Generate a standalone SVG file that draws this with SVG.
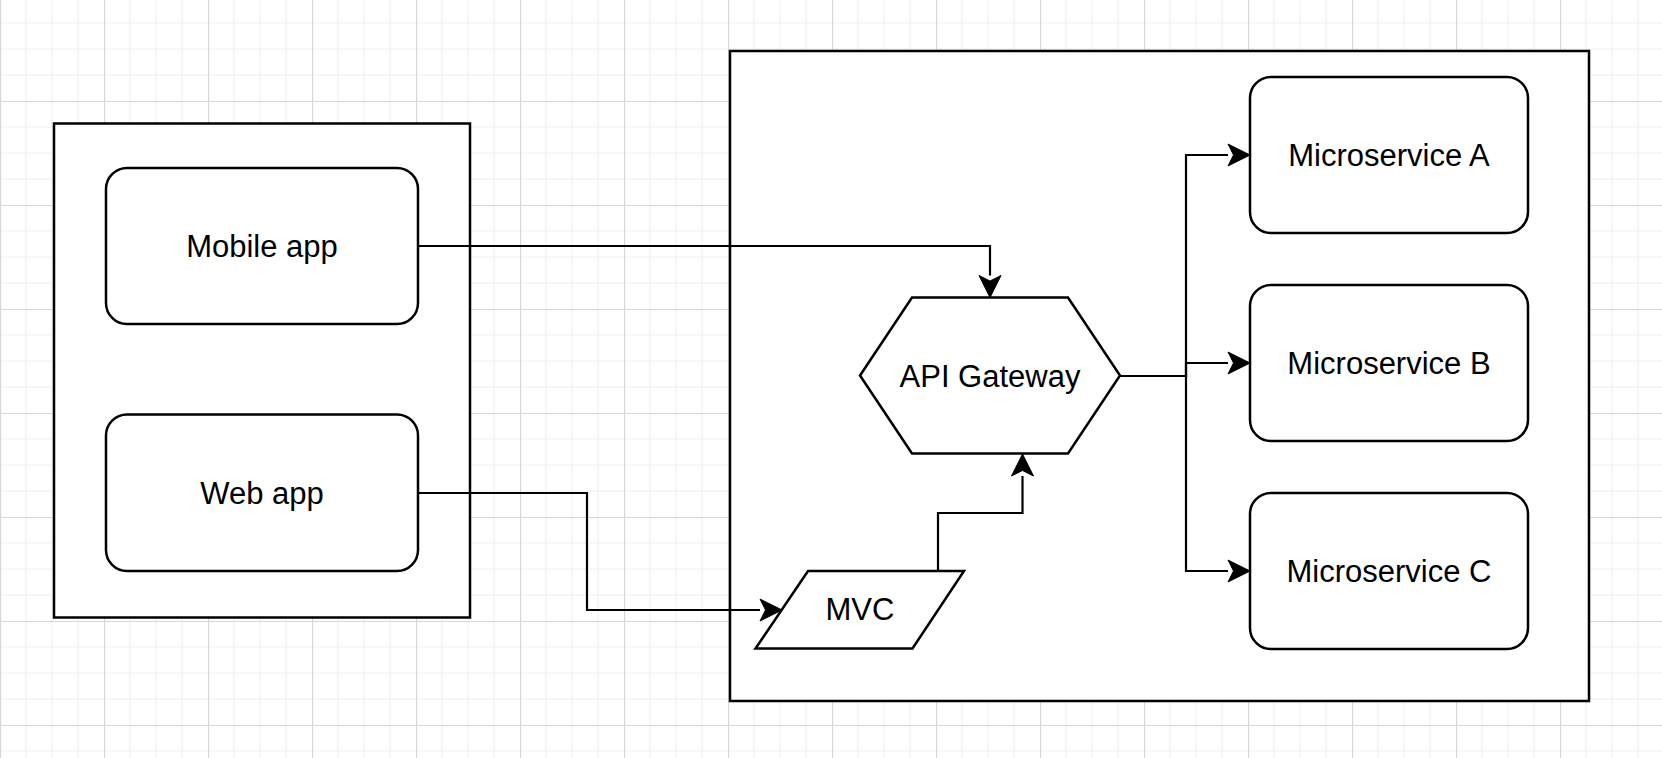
<svg xmlns="http://www.w3.org/2000/svg" width="1662" height="758" viewBox="0 0 1662 758">
  <style>
    .container { fill: #ffffff; stroke: #000000; stroke-width: 2.5; }
    .node { fill: #ffffff; stroke: #000000; stroke-width: 2.5; }
    .label { font-family: "Liberation Sans", Arial, Helvetica, sans-serif; font-size: 31px; fill: #000000; text-anchor: middle; }
    .edge { fill: none; stroke: #000000; stroke-width: 2.2; marker-end: url(#arrow); }
  </style>
  <defs>
    <pattern id="grid" patternUnits="userSpaceOnUse" x="0" y="-3" width="104" height="104">
      <path d="M26 0V104M52 0V104M78 0V104M0 26H104M0 52H104M0 78H104" stroke="#f0f0f0" stroke-width="1.2" fill="none"/>
      <path d="M0.5 0V104M0 0.5H104" stroke="#d6d6d6" stroke-width="1.2" fill="none"/>
    </pattern>
    <marker id="arrow" markerUnits="userSpaceOnUse" viewBox="-1 -12 24 24" markerWidth="24" markerHeight="24" refX="0" refY="0" orient="auto">
      <path d="M22 0L0 -11L5.5 0L0 11Z" fill="#000000" stroke="#000000" stroke-width="1"/>
    </marker>
  </defs>
  <rect x="0" y="0" width="1662" height="758" fill="#ffffff"/>
  <rect x="0" y="0" width="1662" height="758" fill="url(#grid)"/>

  <g id="client-container">
    <rect class="container" x="54" y="123.5" width="416" height="494"/>
  </g>
  <g id="backend-container">
    <rect class="container" x="730" y="51" width="859" height="650"/>
  </g>

  <g id="mobile-app">
    <rect class="node" x="106" y="168" width="312" height="156" rx="21" ry="21"/>
    <text class="label" x="262" y="257">Mobile app</text>
  </g>
  <g id="web-app">
    <rect class="node" x="106" y="414.5" width="312" height="156.5" rx="21" ry="21"/>
    <text class="label" x="262" y="504">Web app</text>
  </g>
  <g id="api-gateway">
    <polygon class="node" points="860,375.5 912,297.5 1068,297.5 1120,375.5 1068,453.5 912,453.5"/>
    <text class="label" x="990" y="387">API Gateway</text>
  </g>
  <g id="mvc">
    <polygon class="node" points="808,571 964,571 912.5,648.5 755.5,648.5"/>
    <text class="label" x="860" y="620">MVC</text>
  </g>
  <g id="microservice-a">
    <rect class="node" x="1250" y="77" width="278" height="156" rx="21" ry="21"/>
    <text class="label" x="1389" y="166">Microservice A</text>
  </g>
  <g id="microservice-b">
    <rect class="node" x="1250" y="285" width="278" height="156" rx="21" ry="21"/>
    <text class="label" x="1389" y="373.5">Microservice B</text>
  </g>
  <g id="microservice-c">
    <rect class="node" x="1250" y="493" width="278" height="156" rx="21" ry="21"/>
    <text class="label" x="1389" y="582">Microservice C</text>
  </g>

  <g id="connectors">
    <path class="edge" d="M418 246H990V275.5"/>
    <path class="edge" d="M418 493H587V610H760"/>
    <path class="edge" d="M938 571V513H1022.5V476"/>
    <path class="edge" d="M1120 376H1186V155H1228"/>
    <path class="edge" d="M1120 376H1186V363H1228"/>
    <path class="edge" d="M1120 376H1186V571H1228"/>
  </g>
</svg>
